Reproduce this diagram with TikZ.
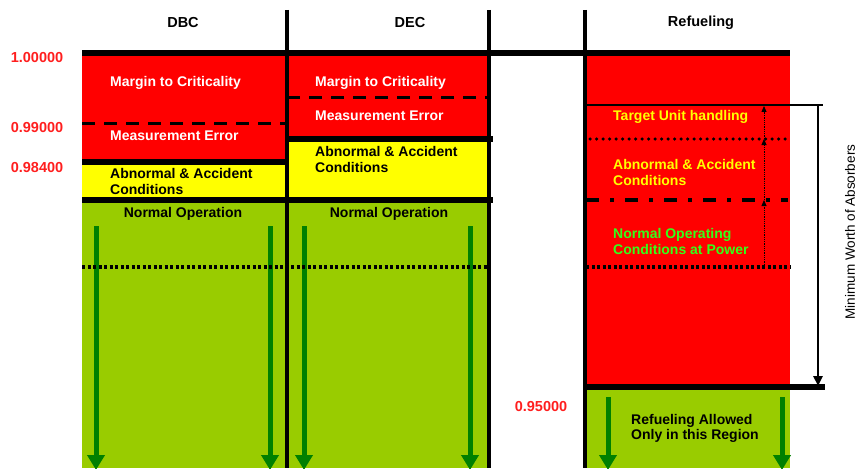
\documentclass[tikz,border=0pt]{standalone}
\usepackage{fontspec}
\setmainfont{Liberation Sans}
\usetikzlibrary{arrows.meta,positioning}
\definecolor{critred}{HTML}{FF0000}
\definecolor{abnyellow}{HTML}{FFFF00}
\definecolor{opgreen}{HTML}{99CC00}
\definecolor{arrgreen}{HTML}{008000}
\definecolor{valred}{HTML}{FF1E1E}
\definecolor{pwrgreen}{HTML}{33FF1A}
\tikzstyle{lab}=[anchor=west, inner sep=0pt, align=left, font=\bfseries\fontsize{14}{15.5}\selectfont]
\tikzstyle{head}=[inner sep=0pt, font=\bfseries\fontsize{14.5}{16}\selectfont]
\tikzstyle{val}=[inner sep=0pt, text=valred, font=\bfseries\fontsize{14.5}{16}\selectfont]
\tikzstyle{bar}=[line width=5.5pt]
\tikzstyle{divider}=[line width=4pt]
\tikzstyle{dashbar}=[line width=3pt, dash pattern=on 13pt off 9pt]
\tikzstyle{dotbar}=[line width=3.5pt, dash pattern=on 3pt off 2.5pt]
\tikzstyle{down}=[arrgreen, line width=5pt, -{Triangle[width=17pt,length=15pt]}]
\tikzstyle{upto}=[line width=0.8pt, densely dotted, -{Triangle[width=5pt,length=6pt]}]

\begin{document}
\begin{tikzpicture}[x=1pt, y=-1pt]
      \useasboundingbox (0,0) rectangle (861,468);
      %
      % fills
      \fill[critred] (82,53) rectangle (287,162);
      \fill[abnyellow] (82,162) rectangle (287,200);
      \fill[opgreen] (82,200) rectangle (287,468);
      \fill[critred] (287,53) rectangle (490,138);
      \fill[abnyellow] (287,138) rectangle (490,200);
      \fill[opgreen] (287,200) rectangle (490,468);
      \fill[critred] (586,53) rectangle (790,387);
      \fill[opgreen] (586,387) rectangle (790,468);
      %
      % green arrows
      \foreach \x in {96,270,304,470}
        \draw[down] (\x,226) -- (\x,470);
      \foreach \x in {608,782}
        \draw[down] (\x,397) -- (\x,470);
      %
      % separators
      \draw[dashbar] (82,123) -- (287,123);
      \draw[dashbar] (287,98) -- (490,98);
      \draw[bar] (82,162) -- (287,162);
      \draw[bar] (287,139) -- (493,139);
      \draw[bar] (82,200) -- (493,200);
      \draw[dotbar] (82,267) -- (490,267);
      \draw[dotbar] (586,267) -- (790,267);
      \draw[line width=3.5pt, line cap=round, dash pattern=on 0pt off 6.5pt] (590,139) -- (788,139);
      \draw[line width=4.5pt, dash pattern=on 13pt off 11pt on 4pt off 11pt] (586,200) -- (788,200);
      \draw[line width=2.5pt] (586,105) -- (823,105);
      \draw[bar] (586,387) -- (825,387);
      \draw[bar] (82,53) -- (790,53);
      \draw[divider] (287,10) -- (287,468);
      \draw[divider] (489,10) -- (489,468);
      \draw[divider] (585,10) -- (585,468);
      %
      % headers and values
      \node at (183,23) [head] (dbc) {DBC};
      \node at (410,23) [head] (dec) {DEC};
      \node at (701,23) [head] (refuel) {Refueling};
      \node at (37,58) [val] (k100) {1.00000};
      \node at (37,128) [val] (k990) {0.99000};
      \node at (37,168) [val] (k984) {0.98400};
      \node at (541,407) [val] (k950) {0.95000};
      %
      % DBC column
      \node at (110,83) [lab, text=white] (dbcmargin) {Margin to Criticality};
      \node at (110,136) [lab, text=white] (dbcmeas) {Measurement Error};
      \node at (110,181.5) [lab] (dbcabn) {Abnormal \& Accident\\Conditions};
      \node at (183,214) [lab, anchor=center] (dbcnormal) {Normal Operation};
      %
      % DEC column
      \node at (315,83) [lab, text=white] (decmargin) {Margin to Criticality};
      \node at (315,116) [lab, text=white] (decmeas) {Measurement Error};
      \node at (315,159.5) [lab] (decabn) {Abnormal \& Accident\\Conditions};
      \node at (389,214) [lab, anchor=center] (decnormal) {Normal Operation};
      %
      % Refueling column
      \node at (613,117) [lab, text=abnyellow] (target) {Target Unit handling};
      \node at (613,172.5) [lab, text=abnyellow] (refabn) {Abnormal \& Accident\\Conditions};
      \node at (613,241.5) [lab, text=pwrgreen] (power) {Normal Operating\\Conditions at Power};
      \node at (631,428.5) [lab] (allowed) {Refueling Allowed\\Only in this Region};
      %
      \coordinate (u0) at (764,265);
      \coordinate (u1) at (764,200);
      \coordinate (u2) at (764,139);
      \coordinate (u3) at (764,106);
      \draw[upto] (u0) -- (u1);
      \draw[upto] (u1) -- (u2);
      \draw[upto] (u2) -- (u3);
      %
      \coordinate (wtop) at (818,105);
      \coordinate (wbot) at (818,386);
      \draw[line width=2.5pt, -{Triangle[width=9pt,length=10pt]}] (wtop) -- (wbot);
      \node at (850,232) [rotate=90, inner sep=0pt, font=\fontsize{13.5}{15}\selectfont] (worth) {Minimum Worth of Absorbers};
    \end{tikzpicture}
\end{document}
